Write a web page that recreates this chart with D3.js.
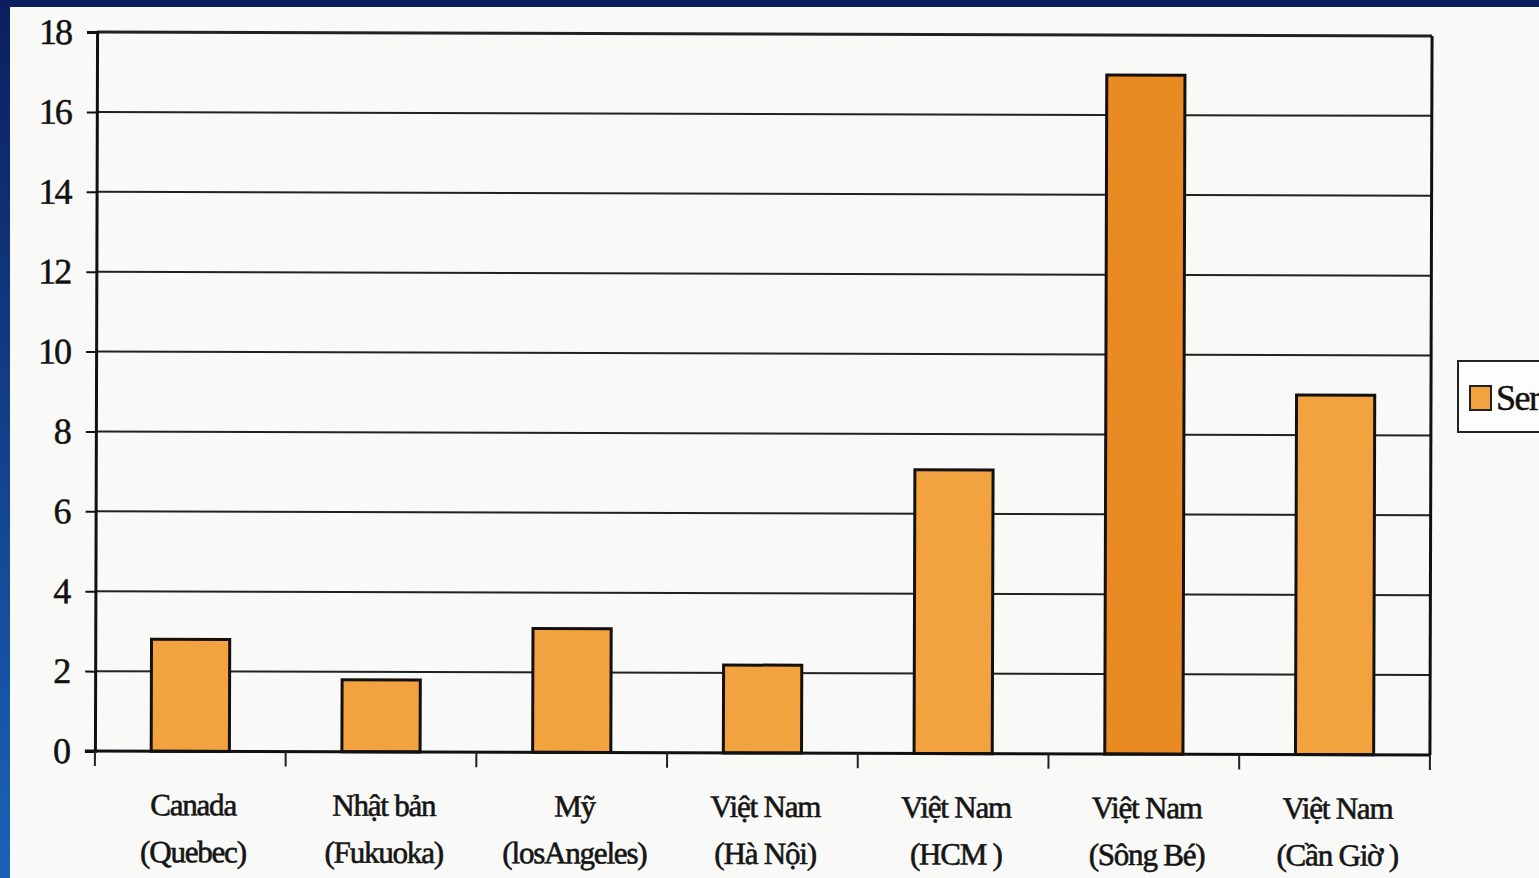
<!DOCTYPE html>
<html>
<head>
<meta charset="UTF-8">
<script src="https://d3js.org/d3.v7.min.js"></script>
<style>
  body { margin: 0; background: #fbfbfa; }
  svg { display: block; }
</style>
</head>
<body>
<svg></svg>

<script>
// chart data
const countries = ["Canada", "Nhật bản", "Mỹ", "Việt Nam", "Việt Nam", "Việt Nam", "Việt Nam"];
const places = ["(Quebec)", "(Fukuoka)", "(losAngeles)", "(Hà Nội)", "(HCM )", "(Sông Bé)", "(Cần Giờ )"];
const values = [2.8, 1.8, 3.1, 2.2, 7.1, 17.0, 9.0];
const yTicks = [0, 2, 4, 6, 8, 10, 12, 14, 16, 18];
const seriesName = "Series1";

let width = 1539, height = 878;
let svg = d3.select("svg").attr("width", width).attr("height", height);

let defs = svg.append("defs");
let grad = defs.append("linearGradient").attr("id", "sideBlue")
    .attr("x1", 0).attr("y1", 0).attr("x2", 0).attr("y2", 1);
grad.append("stop").attr("offset", "0%").attr("stop-color", "#0b1f5e");
grad.append("stop").attr("offset", "100%").attr("stop-color", "#1a62b8");

// paper + slide frame
svg.append("rect").attr("width", width).attr("height", height).attr("fill", "#f9f9f8");
svg.append("rect").attr("x", 0).attr("y", 0).attr("width", 10).attr("height", height).attr("fill", "url(#sideBlue)");
svg.append("rect").attr("x", 0).attr("y", 0).attr("width", width).attr("height", 7).attr("fill", "#0b1f5e");

let plotLeft = 96, plotRight = 1431, plotTop = 34, plotBottom = 753;
let serif = "'Liberation Serif', 'DejaVu Serif', serif";

let x = d3.scaleBand()
    .domain(d3.range(values.length))
    .range([plotLeft, plotRight])
    .paddingInner(0.59)
    .paddingOuter(0.295);

let xOuter = d3.scaleBand().domain(d3.range(values.length)).range([plotLeft, plotRight]);

let y = d3.scaleLinear().domain([0, 18]).range([plotBottom, plotTop]);

// scan is slightly tilted
let chart = svg.append("g").attr("transform", "rotate(0.17, 763, 393)");

// gridlines
chart.append("g")
    .selectAll("line")
    .data(yTicks.filter(d => d > 0))
    .enter()
    .append("line")
    .attr("x1", plotLeft).attr("x2", plotRight)
    .attr("y1", d => y(d)).attr("y2", d => y(d))
    .attr("stroke", "#222")
    .attr("stroke-width", d => d == 18 ? 3 : 2);

// right border
chart.append("line")
    .attr("x1", plotRight).attr("x2", plotRight).attr("y1", plotTop).attr("y2", plotBottom)
    .attr("stroke", "#111").attr("stroke-width", 3);

// bars
chart.append("g")
    .selectAll("rect")
    .data(values)
    .enter()
    .append("rect")
    .attr("x", (d, i) => x(i))
    .attr("y", d => y(d))
    .attr("width", x.bandwidth())
    .attr("height", d => y(0) - y(d))
    .attr("fill", d => d > 15 ? "#ea8a22" : "#f2a23e")
    .attr("stroke", "#141010")
    .attr("stroke-width", 3);

// y axis
let yAxis = chart.append("g")
    .attr("transform", `translate(${plotLeft},0)`)
    .call(d3.axisLeft(y).tickValues(yTicks).tickSize(10).tickPadding(16).tickFormat(d3.format("d")));
yAxis.select(".domain").attr("stroke", "#111").attr("stroke-width", 3);
yAxis.selectAll(".tick line").attr("stroke", "#111").attr("stroke-width", 2);
yAxis.selectAll("text")
    .style("font-family", serif)
    .style("font-size", "36px")
    .style("letter-spacing", "-2px")
    .attr("fill", "#111")
    .attr("stroke", "#111").attr("stroke-width", 0.5);

// x axis line and category boundary ticks
chart.append("line")
    .attr("x1", plotLeft - 10).attr("x2", plotRight).attr("y1", plotBottom).attr("y2", plotBottom)
    .attr("stroke", "#111").attr("stroke-width", 3);

chart.append("g")
    .selectAll("line")
    .data(d3.range(values.length + 1))
    .enter()
    .append("line")
    .attr("x1", i => plotLeft + i * xOuter.step())
    .attr("x2", i => plotLeft + i * xOuter.step())
    .attr("y1", plotBottom).attr("y2", plotBottom + 15)
    .attr("stroke", "#222").attr("stroke-width", 2);

// x labels (two lines)
let labels = chart.append("g")
    .selectAll("text")
    .data(values)
    .enter()
    .append("text")
    .attr("text-anchor", "middle")
    .style("font-family", serif)
    .style("font-size", "31px")
    .style("letter-spacing", "-1.2px")
    .attr("fill", "#151515")
    .attr("stroke", "#151515").attr("stroke-width", 0.6);

labels.append("tspan")
    .attr("x", (d, i) => x(i) + x.bandwidth() / 2 + 3)
    .attr("y", plotBottom + 64)
    .text((d, i) => countries[i]);
labels.append("tspan")
    .attr("x", (d, i) => x(i) + x.bandwidth() / 2 + 3)
    .attr("y", plotBottom + 111)
    .text((d, i) => places[i]);

// legend (runs off the right edge like the original)
let legend = svg.append("g");
legend.append("rect")
    .attr("x", 1458).attr("y", 361).attr("width", 120).attr("height", 71)
    .attr("fill", "#fdfdfd").attr("stroke", "#222").attr("stroke-width", 2);
legend.append("rect")
    .attr("x", 1470).attr("y", 386).attr("width", 21).attr("height", 24)
    .attr("fill", "#f2a23e").attr("stroke", "#222").attr("stroke-width", 2);
legend.append("text")
    .attr("x", 1496).attr("y", 410)
    .text(seriesName)
    .style("font-family", serif)
    .style("font-size", "36px")
    .style("letter-spacing", "-1.5px")
    .attr("fill", "#111")
    .attr("stroke", "#111").attr("stroke-width", 0.5);
</script>

</body>
</html>
